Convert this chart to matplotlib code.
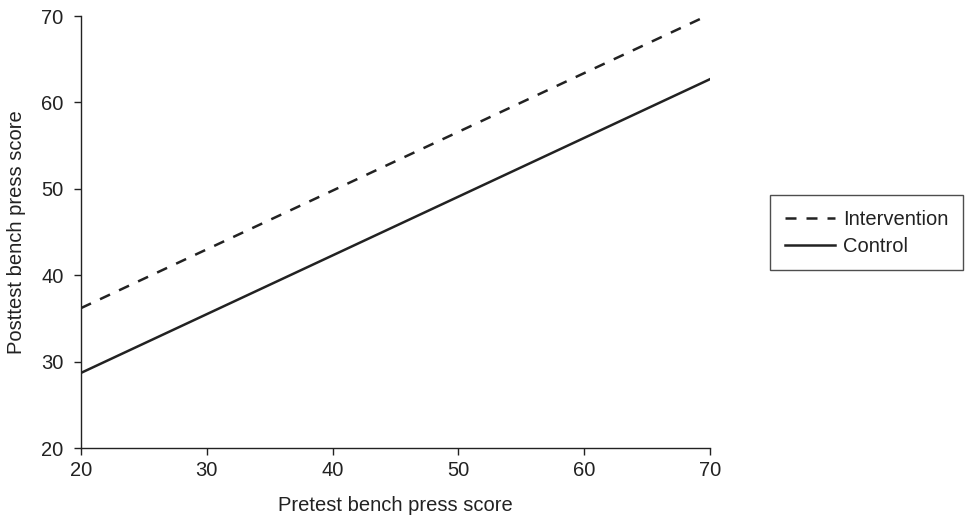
import matplotlib
matplotlib.use("Agg")
import matplotlib.pyplot as plt

plt.rcParams['font.family'] = ['Liberation Sans', 'DejaVu Sans']

# Fitted regression lines
pretest = [20, 70]
intervention = [36.2, 70.2]
control = [28.7, 62.7]
ticks = [20, 30, 40, 50, 60, 70]

ink = '#222222'
fs = 14.5

fig = plt.figure(figsize=(9.7, 5.18), dpi=100)
ax = fig.add_axes([0.0835, 0.135, 0.6485, 0.834])

ax.plot(pretest, intervention, color=ink, lw=1.8, dashes=(4.4, 4), label='Intervention')
ax.plot(pretest, control, color=ink, lw=1.8, label='Control')

ax.set_xlim(20, 70)
ax.set_ylim(20, 70)
ax.set_xticks(ticks)
ax.set_yticks(ticks)
ax.tick_params(direction='out', length=5, width=1, colors=ink, labelsize=fs)
ax.tick_params(axis='y', pad=7.5)
ax.tick_params(axis='x', pad=4.5)
for side in ['top', 'right']:
    ax.spines[side].set_visible(False)
for side in ['left', 'bottom']:
    ax.spines[side].set_color(ink)
    ax.spines[side].set_linewidth(1)

ax.set_xlabel('Pretest bench press score', fontsize=fs, color=ink, labelpad=11)
ax.set_ylabel('Posttest bench press score', fontsize=fs, color=ink, labelpad=11)

leg = ax.legend(loc='upper left', bbox_to_anchor=(0.794, 0.623),
                bbox_transform=fig.transFigure, fontsize=fs, frameon=True,
                fancybox=False, borderaxespad=0, borderpad=0.72,
                handlelength=2.5, handletextpad=0.4, labelspacing=0.4)
leg.get_frame().set_edgecolor(ink)
leg.get_frame().set_linewidth(1)
for t in leg.get_texts():
    t.set_color(ink)

fig.savefig('out.png', dpi=100)
